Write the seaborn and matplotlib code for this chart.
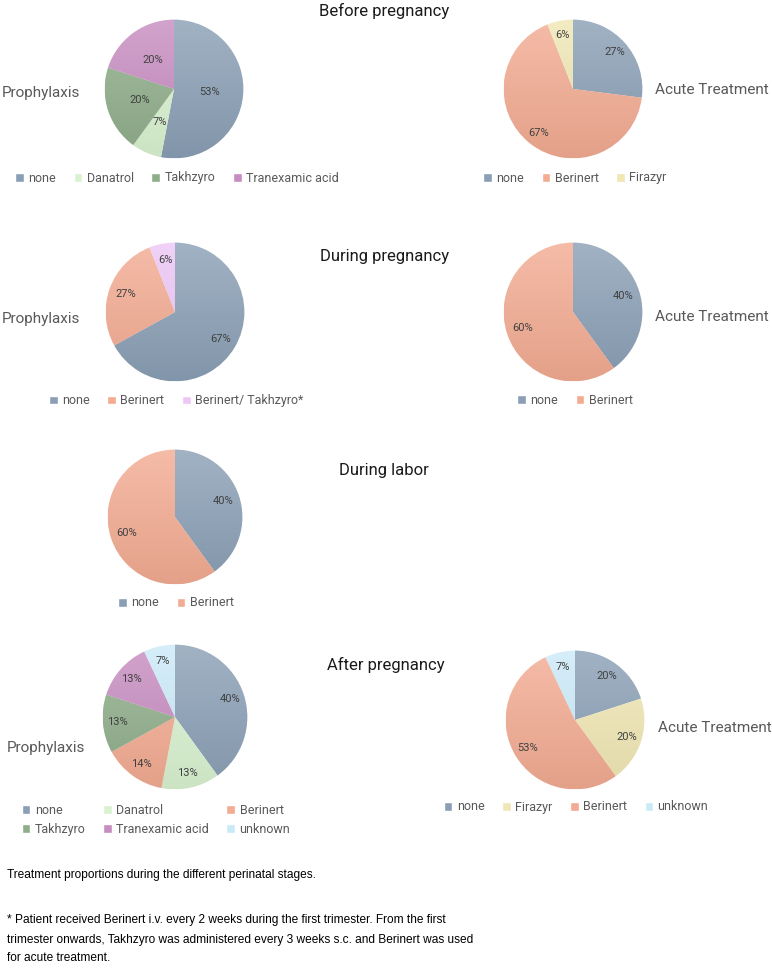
import numpy as np
import matplotlib
matplotlib.use("Agg")
import matplotlib.pyplot as plt
import matplotlib.colors as mcolors
from matplotlib.patches import Patch
import seaborn as sns

# dane - udziały procentowe leczenia w poszczególnych etapach
before_proph_labels = ["none", "Danatrol", "Takhzyro", "Tranexamic acid"]
before_proph_values = [53, 7, 20, 20]
before_acute_labels = ["none", "Berinert", "Firazyr"]
before_acute_values = [27, 67, 6]

during_proph_labels = ["none", "Berinert", "Berinert/ Takhzyro*"]
during_proph_values = [67, 27, 6]
during_acute_labels = ["none", "Berinert"]
during_acute_values = [40, 60]

labor_labels = ["none", "Berinert"]
labor_values = [40, 60]

after_proph_labels = ["none", "Danatrol", "Berinert", "Takhzyro", "Tranexamic acid", "unknown"]
after_proph_values = [40, 13, 14, 13, 13, 7]
after_acute_labels = ["none", "Firazyr", "Berinert", "unknown"]
after_acute_values = [20, 20, 53, 7]

stage_titles = ["Before pregnancy", "During pregnancy", "During labor", "After pregnancy"]
caption = "Treatment proportions during the different perinatal stages."
footnote_lines = [
    "* Patient received Berinert i.v. every 2 weeks during the first trimester. From the first",
    "trimester onwards, Takhzyro was administered every 3 weeks s.c. and Berinert was used",
    "for acute treatment.",
]

COLORS = {
    "none": "#8A9FB5",
    "Danatrol": "#D9F2D0",
    "Takhzyro": "#8FAD8A",
    "Tranexamic acid": "#C78CC0",
    "Berinert": "#F3AB92",
    "Firazyr": "#F0E7B4",
    "Berinert/ Takhzyro*": "#EDC6F6",
    "unknown": "#CBEAF8",
}

W, H = 772, 968

sns.set_theme(style="white")
plt.rcParams["font.family"] = ["Roboto", "DejaVu Sans"]

fig = plt.figure(figsize=(W / 100, H / 100), dpi=100)


def px(x, y):
    return x / W, 1 - y / H


def mix(c, other, t):
    c = np.array(mcolors.to_rgb(c))
    o = np.array(mcolors.to_rgb(other))
    return tuple(c * (1 - t) + o * t)


def draw_pie(cx, cy, r, labels, values, pctdist):
    ax = fig.add_axes([(cx - r) / W, 1 - (cy + r) / H, 2 * r / W, 2 * r / H])
    wedges, texts, autotexts = ax.pie(
        values, colors=[COLORS[l] for l in labels], startangle=90, counterclock=False,
        autopct="%.0f%%", pctdistance=pctdist,
        wedgeprops=dict(edgecolor="white", linewidth=0.5),
        textprops=dict(fontsize=8, color="#404040"))
    # gradient jak w Excelu - jaśniej u góry, ciemniej na dole
    grad = np.linspace(0, 1, 256).reshape(-1, 1)
    for w, l in zip(wedges, labels):
        cmap = mcolors.LinearSegmentedColormap.from_list(
            "g", [mix(COLORS[l], "black", 0.06), mix(COLORS[l], "white", 0.2)])
        im = ax.imshow(grad, extent=(-1, 1, -1, 1), origin="lower", cmap=cmap,
                       aspect="auto", zorder=1.5)
        im.set_clip_path(w)
    for t in autotexts:
        t.set_zorder(3)
    ax.set_xlim(-1.01, 1.01)
    ax.set_ylim(-1.01, 1.01)
    ax.axis("off")
    return ax


def add_legend(labels, x, y, ncol, order=None):
    items = labels if order is None else [labels[i] for i in order]
    handles = [Patch(facecolor=COLORS[l], label=l) for l in items]
    fig.legend(handles=handles, loc="center", bbox_to_anchor=px(x, y), ncol=ncol,
               frameon=False, fontsize=9, handlelength=0.7, handleheight=0.7,
               handletextpad=0.35, columnspacing=1.4, labelcolor="#595959",
               borderpad=0, labelspacing=0.45)


def side_label(text, x, y):
    fig.text(*px(x, y), text, fontsize=11, color="#595959", ha="left", va="center")


# tytuły etapów
for title, (tx, ty) in zip(stage_titles, [(384, 11), (385, 257), (384, 470), (386, 665)]):
    fig.text(*px(tx, ty), title, fontsize=12, color="#1a1a1a", ha="center", va="center")

# przed ciążą
draw_pie(174, 89, 70, before_proph_labels, before_proph_values, 0.52)
add_legend(before_proph_labels, 177, 178, 4)
side_label("Prophylaxis", 2, 93)
draw_pie(573, 89, 70, before_acute_labels, before_acute_values, 0.8)
add_legend(before_acute_labels, 575, 178, 3)
side_label("Acute Treatment", 655, 90)

# w trakcie ciąży
draw_pie(175, 312, 70, during_proph_labels, during_proph_values, 0.76)
add_legend(during_proph_labels, 176, 401, 3)
side_label("Prophylaxis", 2, 319)
draw_pie(573, 312, 70, during_acute_labels, during_acute_values, 0.76)
add_legend(during_acute_labels, 575, 400, 2)
side_label("Acute Treatment", 655, 317)

# poród
draw_pie(175, 517, 68, labor_labels, labor_values, 0.75)
add_legend(labor_labels, 176, 603, 2)

# po ciąży
draw_pie(175, 717, 73, after_proph_labels, after_proph_values, 0.8)
add_legend(after_proph_labels, 156, 820, 3, order=[0, 3, 1, 4, 2, 5])
side_label("Prophylaxis", 7, 748)
draw_pie(575, 720, 70, after_acute_labels, after_acute_values, 0.79)
add_legend(after_acute_labels, 576, 807, 4)
side_label("Acute Treatment", 658, 728)

# podpis
cap_font = ["Liberation Sans", "DejaVu Sans"]
fig.text(*px(7, 875), caption, fontsize=8.6, family=cap_font, color="black",
         ha="left", va="center")
for line, ly in zip(footnote_lines, [920, 940, 958]):
    fig.text(*px(7, ly), line, fontsize=8.6, family=cap_font, color="black",
             ha="left", va="center")

fig.savefig("out.png", dpi=100)
